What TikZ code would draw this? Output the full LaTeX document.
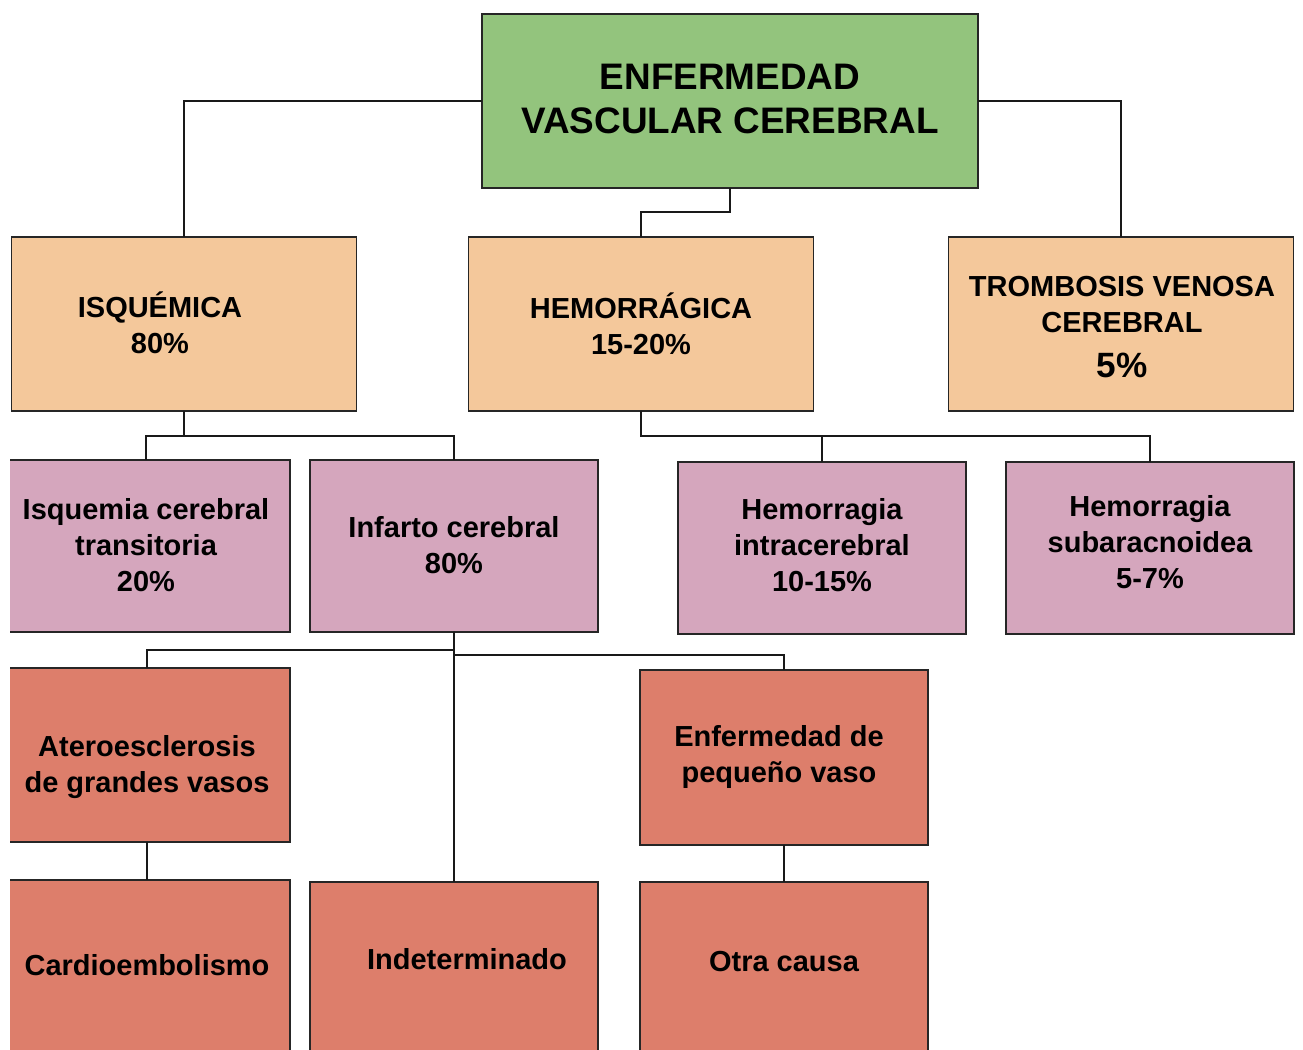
\documentclass[tikz,border=0pt]{standalone}
\usepackage{fontspec}
\setmainfont{Liberation Sans}
\definecolor{evcgreen}{HTML}{93C47D}
\definecolor{tipoorange}{HTML}{F4C89B}
\definecolor{subpink}{HTML}{D5A6BD}
\definecolor{causared}{HTML}{DD7E6B}
\begin{document}
\begin{tikzpicture}[x=0.02cm, y=-0.02cm,
    box/.style={draw=black!85, line width=0.8pt, inner sep=0pt, outer sep=0pt},
    tipo/.style={box, fill=tipoorange, minimum width=6.9cm, minimum height=3.48cm},
    sub/.style={box, fill=subpink, minimum width=5.76cm, minimum height=3.44cm},
    causa/.style={box, fill=causared, minimum width=5.76cm, minimum height=3.48cm},
    lbl/.style={align=center, inner sep=0pt, font=\bfseries\fontsize{16.5}{20.5}\selectfont},
    link/.style={draw=black!90, line width=0.8pt}]
    \useasboundingbox (0,0) rectangle (1303,1050);
    \clip (10,-10) rectangle (1313,1050);

    % raiz
    \node[box, fill=evcgreen, minimum width=9.92cm, minimum height=3.48cm] (evc) at (730,101) {};
    \node[lbl, font=\bfseries\fontsize{21}{25}\selectfont] (evc-t) at (730,99) {ENFERMEDAD\\VASCULAR CEREBRAL};

    % tipos
    \node[tipo] (isq) at (184,324) {};
    \node[tipo] (hem) at (641,324) {};
    \node[tipo] (tvc) at (1121,324) {};
    \node[lbl] (isq-t) at (160,323) {ISQUÉMICA\\80\%};
    \node[lbl] (hem-t) at (641,324) {HEMORRÁGICA\\15-20\%};
    \node[lbl] (tvc-t) at (1122,327) {TROMBOSIS VENOSA\\CEREBRAL\\[5pt]{\fontsize{20}{24}\selectfont 5\%}};

    % subtipos
    \node[sub, minimum width=6.2cm] (ict) at (135,546) {};
    \node[sub] (ic) at (454,546) {};
    \node[sub] (hic) at (822,548) {};
    \node[sub] (hsa) at (1150,548) {};
    \node[lbl] (ict-t) at (146,545) {Isquemia cerebral\\transitoria\\20\%};
    \node[lbl] (ic-t) at (454,545) {Infarto cerebral\\80\%};
    \node[lbl] (hic-t) at (822,545) {Hemorragia\\intracerebral\\10-15\%};
    \node[lbl] (hsa-t) at (1150,542) {Hemorragia\\subaracnoidea\\5-7\%};

    % causas del infarto
    \node[causa, minimum width=6.2cm] (ate) at (135,755) {};
    \node[causa, minimum height=3.5cm] (epv) at (784,757.5) {};
    \node[causa, minimum width=6.2cm, minimum height=3.8cm] (car) at (135,975) {};
    \node[causa, minimum height=3.76cm] (ind) at (454,976) {};
    \node[causa, minimum height=3.76cm] (otr) at (784,976) {};
    \node[lbl] (ate-t) at (147,767) {Ateroesclerosis\\de grandes vasos};
    \node[lbl] (epv-t) at (779,757) {Enfermedad de\\pequeño vaso};
    \node[lbl] (car-t) at (147,965) {Cardioembolismo};
    \node[lbl] (ind-t) at (467,959) {Indeterminado};
    \node[lbl] (otr-t) at (784,962) {Otra causa};

    % conectores
    \draw[link] (evc.west) -| (isq.north);
    \draw[link] (evc.east) -| (tvc.north);
    \draw[link] (evc.south) -- ++(0,24) -| (hem.north);

    \draw[link] (isq.south) -- ++(0,25) coordinate (isq-j) -| (ict-t |- ict.north);
    \draw[link] (isq-j) -| (ic.north);
    \draw[link] (hem.south) -- ++(0,25) coordinate (hem-j) -| (hic.north);
    \draw[link] (hem-j) -| (hsa.north);

    \draw[link] (ic.south) -- ++(0,18) -| (ate-t |- ate.north);
    \draw[link] (ic.south) -- (ind.north);
    \draw[link] (ic.south) -- ++(0,23) -| (epv.north);
    \draw[link] (ate-t |- ate.south) -- (car-t |- car.north);
    \draw[link] (epv.south) -- (otr.north);
\end{tikzpicture}
\end{document}
